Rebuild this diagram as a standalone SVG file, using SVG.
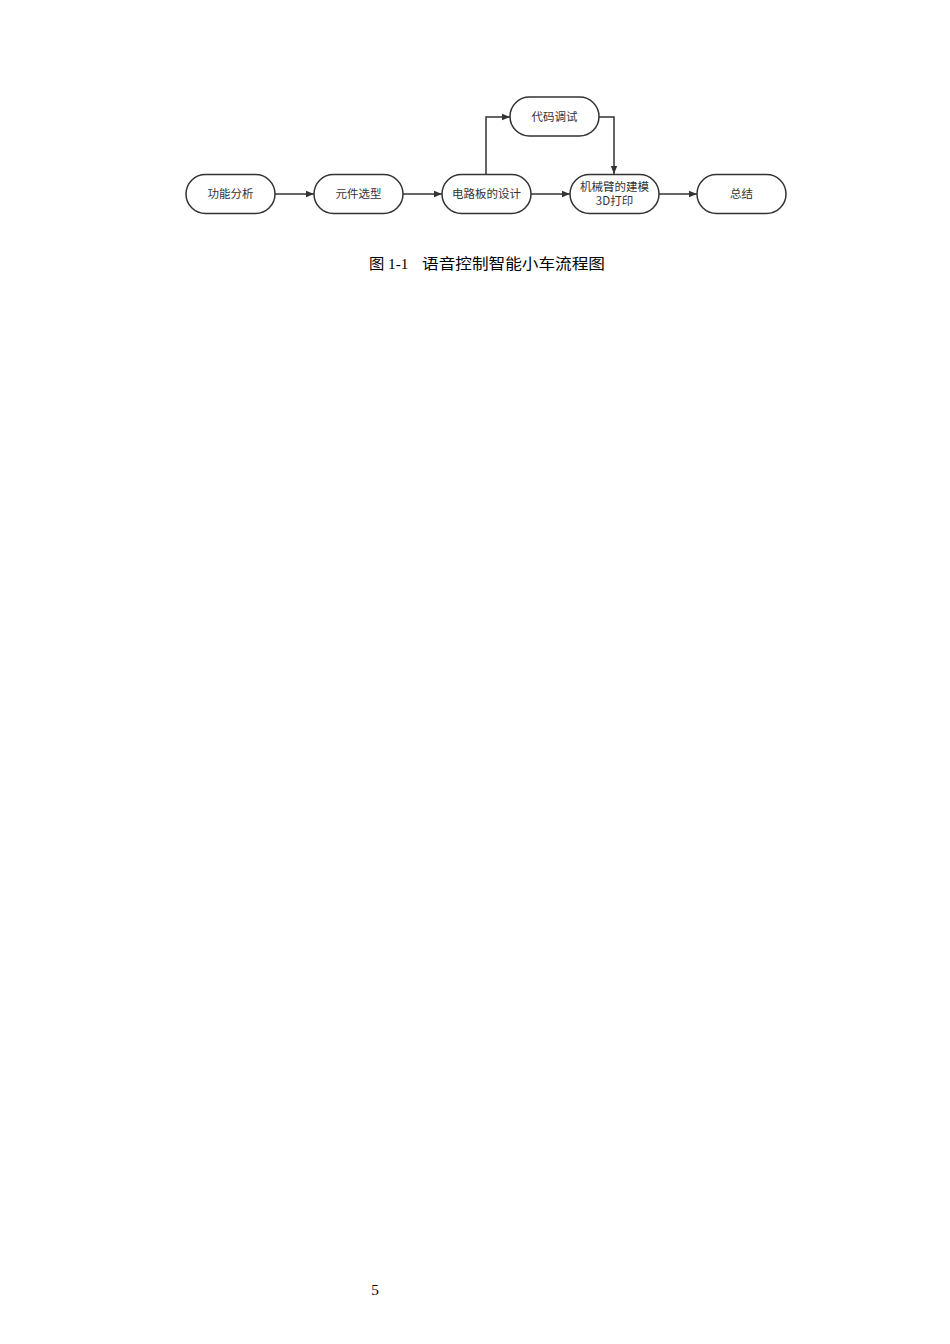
<svg xmlns="http://www.w3.org/2000/svg" width="950" height="1344" viewBox="0 0 950 1344">
<style>
.node rect{fill:#fff;stroke:#333;stroke-width:1.5}
.node text{font-family:"Noto Sans CJK SC","Liberation Sans",sans-serif;font-size:11.5px;fill:#333;text-anchor:middle}
.conn path{fill:none;stroke:#333;stroke-width:1.5;marker-end:url(#arr)}
.cap{font-family:"Liberation Serif","Noto Sans CJK SC",serif;font-size:15.3px;fill:#000}
</style>
<defs>
<marker id="arr" viewBox="0 0 10 10" refX="10" refY="5" markerWidth="8" markerHeight="8" markerUnits="userSpaceOnUse" orient="auto">
<path d="M0,1 L10,5 L0,9 z" fill="#333"/>
</marker>
</defs>
<rect width="950" height="1344" fill="#fff"/>
<g class="conn">
<path d="M275,194 L314,194"/>
<path d="M403,194 L442,194"/>
<path d="M531,194 L570,194"/>
<path d="M659,194 L697,194"/>
<path d="M486,174 L486,117 L510,117"/>
<path d="M599,117 L614,117 L614,174"/>
</g>
<g id="n1" class="node"><rect x="186" y="174.5" width="89" height="39" rx="19.5"/><text x="230.5" y="198">功能分析</text></g>
<g id="n2" class="node"><rect x="314" y="174.5" width="89" height="39" rx="19.5"/><text x="358.5" y="198">元件选型</text></g>
<g id="n3" class="node"><rect x="442" y="174.5" width="89" height="39" rx="19.5"/><text x="486.5" y="198">电路板的设计</text></g>
<g id="n4" class="node"><rect x="510" y="97" width="89" height="39" rx="19.5"/><text x="554.5" y="121">代码调试</text></g>
<g id="n5" class="node"><rect x="570" y="174.5" width="89" height="39" rx="19.5"/><text x="614.5" y="190.5">机械臂的建模</text><text x="614.5" y="204.5">3D打印</text></g>
<g id="n6" class="node"><rect x="697" y="174.5" width="89" height="39" rx="19.5"/><text x="741.5" y="198">总结</text></g>
<text class="cap" x="369" y="269" font-size="16">图</text>
<text class="cap" x="388" y="269">1-1</text>
<text class="cap" x="422" y="269" font-size="16" textLength="183" lengthAdjust="spacingAndGlyphs">语音控制智能小车流程图</text>
<text class="cap" x="375" y="1295" text-anchor="middle" font-size="14">5</text>
</svg>
